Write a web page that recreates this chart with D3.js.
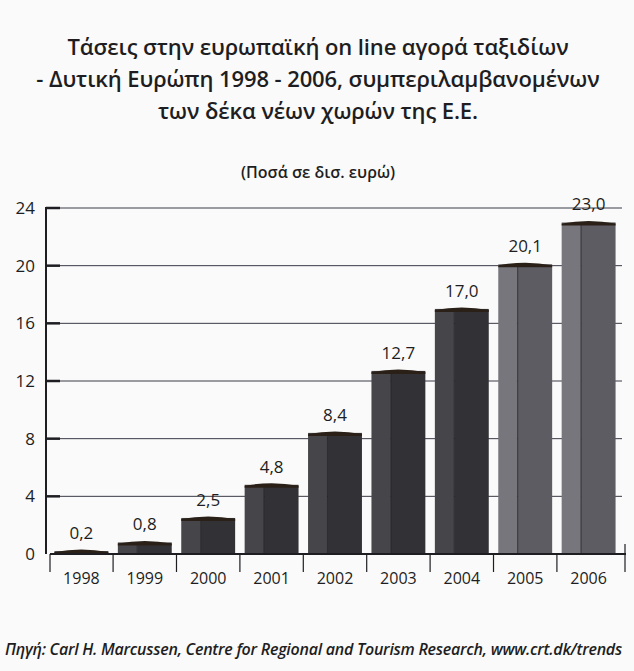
<!DOCTYPE html>
<html>
<head>
<meta charset="utf-8">
<script src="https://cdn.jsdelivr.net/npm/d3@7"></script>
<style>
  html, body { margin: 0; padding: 0; background: #fafafa; }
  svg { display: block; }
  text { font-family: "Open Sans", "Noto Sans", sans-serif; fill: #1e1e22; }
</style>
</head>
<body>
<svg id="chart" width="634" height="671"></svg>
<script>
const years = ["1998","1999","2000","2001","2002","2003","2004","2005","2006"];
const values = [0.2, 0.8, 2.5, 4.8, 8.4, 12.7, 17.0, 20.1, 23.0];
const valueLabels = ["0,2","0,8","2,5","4,8","8,4","12,7","17,0","20,1","23,0"];
const yTicks = [0, 4, 8, 12, 16, 20, 24];
const titleLines = [
  "Τάσεις στην ευρωπαϊκή on line αγορά ταξιδίων",
  "- Δυτική Ευρώπη 1998 - 2006, συμπεριλαμβανομένων",
  "των δέκα νέων χωρών της Ε.Ε."
];
const subtitle = "(Ποσά σε δισ. ευρώ)";
const source = "Πηγή: Carl H. Marcussen, Centre for Regional and Tourism Research, www.crt.dk/trends";

const svg = d3.select("#chart");

const x = d3.scaleBand().domain(years).range([50, 620]).paddingInner(0.15).paddingOuter(0.07);
const y = d3.scaleLinear().domain([0, 24]).range([554, 208]);

// Title
svg.append("g").selectAll("text").data(titleLines).join("text")
  .attr("x", 318).attr("y", (d, i) => 55 + i * 32)
  .attr("text-anchor", "middle")
  .style("font-size", "22px").style("font-weight", "600")
  .style("letter-spacing", "-0.1px")
  .text(d => d);

svg.append("text").attr("x", 318).attr("y", 178)
  .attr("text-anchor", "middle").style("font-size", "16px").style("font-weight", "600")
  .text(subtitle);

// Gridlines
svg.append("g").selectAll("line").data(yTicks.filter(t => t > 0)).join("line")
  .attr("x1", 46).attr("x2", 622)
  .attr("y1", d => y(d)).attr("y2", d => y(d))
  .attr("stroke", "#3a3a48").attr("stroke-width", 1);

// left tick marks (thicker)
svg.append("g").selectAll("line").data(yTicks.filter(t => t > 0)).join("line")
  .attr("x1", 46).attr("x2", 60)
  .attr("y1", d => y(d)).attr("y2", d => y(d))
  .attr("stroke", "#1e1e22").attr("stroke-width", 2.5);

// Y axis labels
svg.append("g").selectAll("text").data(yTicks).join("text")
  .attr("x", 35).attr("y", d => y(d) + 6)
  .attr("text-anchor", "end")
  .style("font-size", "17px").style("font-weight", "500")
  .text(d => d);

// Y axis line
svg.append("line").attr("x1", 46).attr("x2", 46).attr("y1", y(24) - 1).attr("y2", y(0))
  .attr("stroke", "#1e1e22").attr("stroke-width", 2);

// Bars
const bars = svg.append("g").selectAll("g").data(years).join("g");
const isLight = (i) => i >= 7;
bars.each(function(d, i) {
  const g = d3.select(this);
  const bx = x(d), bw = x.bandwidth();
  const top = y(values[i]), bottom = y(0);
  const split = bw * 0.36;
  g.append("rect").attr("x", bx).attr("y", top).attr("width", split).attr("height", bottom - top)
    .attr("fill", isLight(i) ? "#76767c" : "#46464a");
  g.append("rect").attr("x", bx + split).attr("y", top).attr("width", bw - split).attr("height", bottom - top)
    .attr("fill", isLight(i) ? "#5c5c62" : "#323236");
  g.append("line").attr("x1", bx + split).attr("x2", bx + split).attr("y1", top).attr("y2", bottom)
    .attr("stroke", "#1e1e22").attr("stroke-width", 0.8);
  // top cap
  g.append("path")
    .attr("d", `M${bx},${top + 1} Q${bx + bw / 2},${top - 4} ${bx + bw},${top + 1} L${bx + bw},${top + 3} L${bx},${top + 3} Z`)
    .attr("fill", "#2a2018");
  // value label
  g.append("text").attr("x", bx + bw / 2).attr("y", top - 12)
    .attr("text-anchor", "middle").style("font-size", "17px").style("font-weight", "500")
    .text(valueLabels[i]);
});

// X axis
svg.append("line").attr("x1", 50).attr("x2", 626).attr("y1", y(0)).attr("y2", y(0))
  .attr("stroke", "#1e1e22").attr("stroke-width", 2);
const bounds = years.map(d => x(d) - x.step() * x.paddingInner() / 2);
bounds[0] = 50;
bounds.push(625);
svg.append("g").selectAll("line").data(bounds).join("line")
  .attr("x1", d => d).attr("x2", d => d)
  .attr("y1", (d, i) => i === bounds.length - 1 ? y(0) - 10 : y(0))
  .attr("y2", y(0) + 18)
  .attr("stroke", "#1e1e22").attr("stroke-width", 1.2);

svg.append("g").selectAll("text").data(years).join("text")
  .attr("x", d => x(d) + x.bandwidth() / 2).attr("y", 584)
  .attr("text-anchor", "middle").style("font-size", "16px").style("font-weight", "500")
  .text(d => d);

// Source
svg.append("text").attr("x", 5).attr("y", 655)
  .style("font-size", "16px").style("font-style", "italic").style("font-weight", "600")
  .style("letter-spacing", "-0.25px")
  .text(source);
</script>
</body>
</html>
